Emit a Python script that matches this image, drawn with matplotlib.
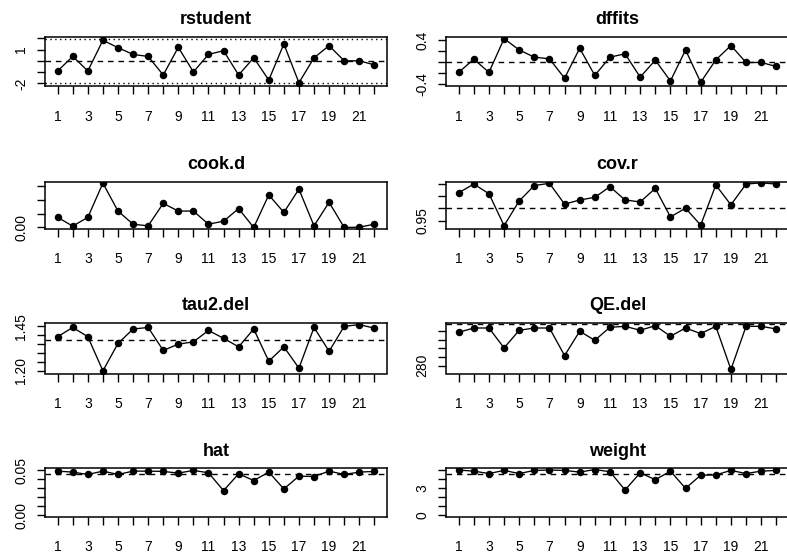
import matplotlib

matplotlib.use("Agg")

import matplotlib.pyplot as plt

plt.rcParams["font.family"] = ["Liberation Sans", "DejaVu Sans"]

study = list(range(1, 23))

rstudent = [-0.90, 0.39, -0.90, 1.83, 1.17, 0.57, 0.39, -1.26, 1.20, -0.99, 0.57,
            0.90, -1.26, 0.27, -1.71, 1.50, -1.95, 0.27, 1.35, 0.00, 0.00, -0.36]
dffits = [-0.185, 0.054, -0.185, 0.424, 0.22, 0.09, 0.06, -0.29, 0.25, -0.24, 0.09,
          0.15, -0.27, 0.036, -0.34, 0.22, -0.364, 0.04, 0.30, -0.006, -0.006, -0.078]
cook_d = [0.037, 0.005, 0.037, 0.162, 0.060, 0.012, 0.006, 0.088, 0.060, 0.060, 0.012,
          0.023, 0.069, 0.000, 0.119, 0.055, 0.140, 0.006, 0.092, 0.000, 0.001, 0.012]
cov_r = [1.065, 1.101, 1.061, 0.929, 1.031, 1.095, 1.104, 1.018, 1.035, 1.046, 1.090,
         1.035, 1.027, 1.083, 0.965, 1.001, 0.931, 1.097, 1.015, 1.101, 1.106, 1.101]
tau2_del = [1.392, 1.444, 1.392, 1.200, 1.354, 1.435, 1.444, 1.315, 1.350, 1.363, 1.427,
            1.383, 1.335, 1.435, 1.254, 1.335, 1.215, 1.444, 1.310, 1.450, 1.460, 1.440]
qe_del = [357.8, 367.9, 367.9, 321.2, 362.5, 367.9, 367.9, 303.3, 360.2, 339.1, 369.5,
          371.8, 362.5, 373.4, 348.5, 367.9, 354.7, 371.8, 270.7, 371.8, 371.8, 365.6]
hat = [0.0492, 0.0481, 0.0455, 0.0492, 0.0455, 0.0492, 0.0492, 0.0489, 0.0470, 0.0500, 0.0474,
       0.0274, 0.0462, 0.0387, 0.0481, 0.0293, 0.0436, 0.0432, 0.0492, 0.0455, 0.0481, 0.0489]
weight = [5.04, 4.92, 4.65, 5.00, 4.65, 5.00, 5.04, 5.00, 4.81, 5.10, 4.85,
          2.81, 4.73, 3.96, 4.92, 3.00, 4.46, 4.50, 5.00, 4.65, 4.92, 5.00]

# reference lines: (value, linestyle)
rstudent_lines = [(0.0, "dashed"), (-1.96, "dotted"), (1.96, "dotted")]
dffits_lines = [(0.0, "dashed")]
cov_r_lines = [(1.0, "dashed")]
tau2_full = 1.373
qe_full = 377.3
hat_mean = 0.04545
weight_mean = 4.545

DASH = (0, (4, 3.5))
DOT = (0, (1, 2.5))

W, H = 787, 557


def _box(left, top, right, bottom):
    return [left / W, 1 - bottom / H, (right - left) / W, (bottom - top) / H]


def _panel(fig, rect, title, values, ylim, yticks, ylabels, lines):
    ax = fig.add_axes(rect)
    ax.plot(study, values, color="black", linewidth=0.95, marker="o",
            markersize=5.4, markerfacecolor="black", markeredgewidth=0)
    for yv, style in lines:
        ax.axhline(yv, color="black", linewidth=1.0,
                   linestyle=DASH if style == "dashed" else DOT)
    ax.set_xlim(0.16, 22.84)
    ax.set_ylim(*ylim)
    ax.set_xticks(study, [str(i) if i % 2 == 1 else "" for i in study])
    ax.set_yticks(yticks, ylabels)
    ax.tick_params(axis="both", direction="out", length=6, width=1.0,
                   labelsize=10, color="black")
    ax.tick_params(axis="x", pad=11)
    ax.tick_params(axis="y", pad=6, labelrotation=90)
    for lab in ax.get_yticklabels():
        lab.set_verticalalignment("center")
    for sp in ax.spines.values():
        sp.set_linewidth(1.1)
    ax.set_title(title, fontweight="bold", fontsize=13, pad=9)
    return ax


fig = plt.figure(figsize=(W / 100, H / 100), dpi=100)
fig.patch.set_facecolor("white")

LX0, LX1 = 45, 387
RX0, RX1 = 446, 789
rows = [(37, 86), (181.5, 228.5), (323, 373.5), (468, 516.5)]

_panel(fig, _box(LX0, rows[0][0], LX1, rows[0][1]), "rstudent", rstudent,
       (-2.24, 2.12), [-2, -1, 0, 1, 2], ["-2", "", "", "1", ""], rstudent_lines)
_panel(fig, _box(RX0, rows[0][0], RX1, rows[0][1]), "dffits", dffits,
       (-0.431, 0.454), [-0.4, -0.2, 0, 0.2, 0.4], ["-0.4", "", "", "", "0.4"], dffits_lines)
_panel(fig, _box(LX0, rows[1][0], LX1, rows[1][1]), "cook.d", cook_d,
       (-0.0037, 0.168), [0, 0.05, 0.10, 0.15], ["0.00", "", "", ""], [])
_panel(fig, _box(RX0, rows[1][0], RX1, rows[1][1]), "cov.r", cov_r,
       (0.917, 1.1116), [0.95, 1.0, 1.05, 1.10], ["0.95", "", "", ""], cov_r_lines)
_panel(fig, _box(LX0, rows[2][0], LX1, rows[2][1]), "tau2.del", tau2_del,
       (1.185, 1.469), [1.20, 1.25, 1.30, 1.35, 1.40, 1.45],
       ["1.20", "", "", "", "", "1.45"], [(tau2_full, "dashed")])
_panel(fig, _box(RX0, rows[2][0], RX1, rows[2][1]), "QE.del", qe_del,
       (261.3, 379.6), [280, 300, 320, 340, 360], ["280", "", "", "", ""],
       [(qe_full, "dashed")])
_panel(fig, _box(LX0, rows[3][0], LX1, rows[3][1]), "hat", hat,
       (-0.0015, 0.0527), [0, 0.01, 0.02, 0.03, 0.04, 0.05],
       ["0.00", "", "", "", "", "0.05"], [(hat_mean, "dashed")])
_panel(fig, _box(RX0, rows[3][0], RX1, rows[3][1]), "weight", weight,
       (-0.15, 5.27), [0, 1, 2, 3, 4, 5], ["0", "", "", "3", "", ""],
       [(weight_mean, "dashed")])

fig.savefig("out.png", dpi=100)
plt.close(fig)
